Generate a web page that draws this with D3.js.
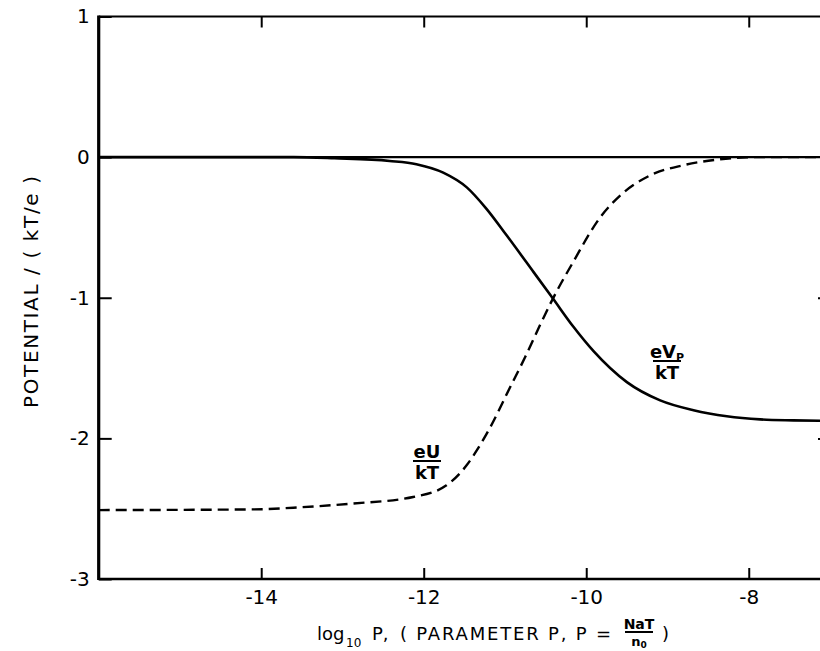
<!DOCTYPE html>
<html>
<head>
<meta charset="utf-8">
<script src="https://cdn.jsdelivr.net/npm/d3@7"></script>
<style>
  html, body { margin: 0; padding: 0; background: #fff; }
  svg { display: block; }
  text { font-family: "DejaVu Sans", "Liberation Sans", sans-serif; fill: #000; }
</style>
</head>
<body>
<svg id="chart" width="820" height="651"></svg>
<script>
// Axis ticks
const xTicks = [-14, -12, -10, -8];
const yTicks = [1, 0, -1, -2, -3];

// eVp/kT (solid) against log10 P
const vpLogP = [-16, -14.5, -13.6, -13.1, -12.42, -12.09, -11.76, -11.47, -11.23, -10.98, -10.65, -10.41, -10.16, -9.91, -9.5, -9.09, -8.68, -8.27, -7.86, -7.45, -7.0];
const vpValue = [0, 0, 0, -0.008, -0.027, -0.05, -0.11, -0.215, -0.366, -0.556, -0.816, -1.006, -1.205, -1.38, -1.6, -1.73, -1.8, -1.843, -1.865, -1.872, -1.876];

// eU/kT (dashed) against log10 P
const uLogP = [-16, -14.1, -13.52, -12.91, -12.13, -11.72, -11.47, -11.33, -11.18, -10.94, -10.75, -10.57, -10.41, -10.16, -9.83, -9.58, -9.21, -8.81, -8.39, -7.94, -7.0];
const uValue = [-2.51, -2.505, -2.49, -2.465, -2.417, -2.334, -2.19, -2.07, -1.92, -1.64, -1.42, -1.196, -1.006, -0.745, -0.43, -0.272, -0.129, -0.058, -0.018, 0, 0];

const svg = d3.select("#chart");
const x = d3.scaleLinear().domain([-16, -7]).range([98.7, 830]);
const y = d3.scaleLinear().domain([-3, 1]).range([579, 16.5]);
const fmt = d => String(d);

// Ticks pointing inward on all four sides
const gB = svg.append("g").attr("transform", `translate(0,${y(-3)})`)
  .call(d3.axisBottom(x).tickValues(xTicks).tickSize(-11).tickPadding(11).tickFormat(fmt));
const gT = svg.append("g").attr("transform", `translate(0,${y(1)})`)
  .call(d3.axisTop(x).tickValues(xTicks).tickSize(-11).tickFormat(""));
const gL = svg.append("g").attr("transform", `translate(${x(-16)},0)`)
  .call(d3.axisLeft(y).tickValues(yTicks).tickSize(-13).tickPadding(9).tickFormat(fmt));
const gR = svg.append("g").attr("transform", `translate(${x(-7)},0)`)
  .call(d3.axisRight(y).tickValues([-1, -2]).tickSize(-12).tickFormat(""));

[gB, gT, gL, gR].forEach(g => {
  g.select(".domain").remove();
  g.selectAll(".tick line").attr("stroke", "#000").attr("stroke-width", 2);
  g.selectAll("text").attr("font-size", 20).attr("font-family", "DejaVu Sans, sans-serif").attr("fill", "#000");
});

// Frame
const frame = svg.append("g").attr("stroke", "#000").attr("fill", "none");
frame.append("line").attr("x1", x(-16)).attr("x2", x(-16)).attr("y1", y(1) - 1).attr("y2", y(-3) + 1).attr("stroke-width", 3.2);
frame.append("line").attr("x1", x(-16)).attr("x2", x(-7)).attr("y1", y(1)).attr("y2", y(1)).attr("stroke-width", 2.2);
frame.append("line").attr("x1", x(-16)).attr("x2", x(-7)).attr("y1", y(-3)).attr("y2", y(-3)).attr("stroke-width", 2.4);
frame.append("line").attr("x1", x(-7)).attr("x2", x(-7)).attr("y1", y(1)).attr("y2", y(-3)).attr("stroke-width", 2.2);

// Zero reference line
svg.append("line").attr("x1", x(-16)).attr("x2", x(-7)).attr("y1", y(0)).attr("y2", y(0))
  .attr("stroke", "#000").attr("stroke-width", 2.2);

const line = d3.line().x(d => x(d[0])).y(d => y(d[1])).curve(d3.curveMonotoneX);

svg.append("path").datum(d3.zip(vpLogP, vpValue)).attr("d", line)
  .attr("fill", "none").attr("stroke", "#000").attr("stroke-width", 2.6);

svg.append("path").datum(d3.zip(uLogP, uValue)).attr("d", line)
  .attr("fill", "none").attr("stroke", "#000").attr("stroke-width", 2.4)
  .attr("stroke-dasharray", "11,6");

// Curve labels as stacked fractions
function fraction(cx, topY, top, bottom, sub) {
  const g = svg.append("g").attr("font-family", "Liberation Sans, Arial, sans-serif").attr("font-weight", "bold");
  const t = g.append("text").attr("x", cx).attr("y", topY).attr("text-anchor", "middle").attr("font-size", 18);
  t.append("tspan").text(top);
  if (sub) t.append("tspan").attr("font-size", 11).attr("dy", 3).text(sub);
  g.append("line").attr("x1", cx - 14).attr("x2", cx + 14).attr("y1", topY + 3).attr("y2", topY + 3)
    .attr("stroke", "#000").attr("stroke-width", 2);
  g.append("text").attr("x", cx).attr("y", topY + 21).attr("text-anchor", "middle").attr("font-size", 18).text(bottom);
}
fraction(427, 458, "eU", "kT", null);
fraction(667, 358, "eV", "kT", "P");

// Y axis title
svg.append("text")
  .attr("transform", `translate(38,292) rotate(-90)`)
  .attr("text-anchor", "middle")
  .attr("font-size", 20)
  .attr("textLength", 232).attr("lengthAdjust", "spacing")
  .text("POTENTIAL / ( kT/e )");

// X axis title
const xt = svg.append("g").attr("font-size", 18);
xt.append("text").attr("x", 317).attr("y", 640).text("log");
xt.append("text").attr("x", 346).attr("y", 647).attr("font-size", 12).text("10");
xt.append("text").attr("x", 372).attr("y", 640).text("P,");
xt.append("text").attr("x", 400).attr("y", 640).attr("textLength", 211).attr("lengthAdjust", "spacing").text("( PARAMETER P, P =");
xt.append("text").attr("x", 639).attr("y", 629).attr("text-anchor", "middle").attr("font-size", 14).attr("font-weight", "bold").text("NaT");
xt.append("line").attr("x1", 625).attr("x2", 653).attr("y1", 632).attr("y2", 632).attr("stroke", "#000").attr("stroke-width", 2);
const n0 = xt.append("text").attr("x", 639).attr("y", 646).attr("text-anchor", "middle").attr("font-size", 13).attr("font-weight", "bold");
n0.append("tspan").text("n");
n0.append("tspan").attr("font-size", 9).attr("dy", 2).text("0");
xt.append("text").attr("x", 662).attr("y", 640).text(")");
</script>
</body>
</html>
